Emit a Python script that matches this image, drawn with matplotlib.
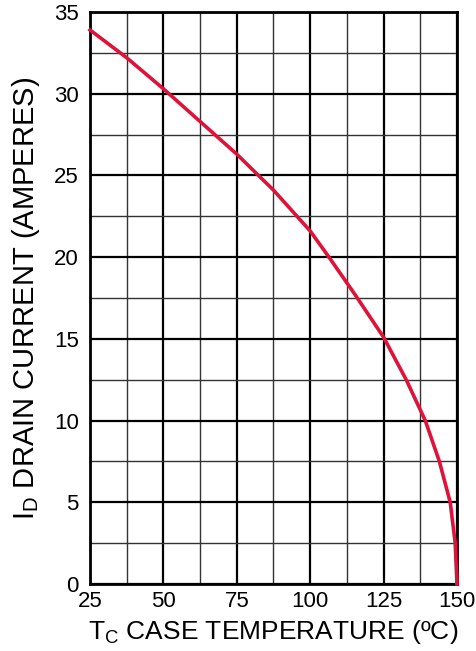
import numpy as np
import matplotlib
matplotlib.use('Agg')
import matplotlib.pyplot as plt
from matplotlib.ticker import MultipleLocator

plt.rcParams['font.family'] = ['Liberation Sans', 'DejaVu Sans']
plt.rcParams['mathtext.fontset'] = 'custom'
plt.rcParams['mathtext.rm'] = 'Liberation Sans'

# case temperature (C) vs max drain current (A)
temp = [25, 37.5, 50, 62.5, 75, 81.8, 87.5, 96, 100, 106.4, 115.3, 125,
        132.7, 139.2, 144, 147.7, 149.4, 150]
current = [33.9, 32.2, 30.3, 28.3, 26.3, 25.1, 24.1, 22.4, 21.6, 20.0, 17.7, 15.1,
           12.5, 10.0, 7.5, 5.0, 2.5, 0.0]

fig = plt.figure(figsize=(4.77, 6.51), dpi=100)
ax = fig.add_axes([0.1887, 0.1029, 0.7693, 0.8787])

ax.plot(temp, current, color='#dc143c', lw=2.6, clip_on=False, zorder=5,
        solid_joinstyle='round')

ax.set_xlim(25, 150)
ax.set_ylim(0, 35)
ax.xaxis.set_major_locator(MultipleLocator(25))
ax.xaxis.set_minor_locator(MultipleLocator(12.5))
ax.yaxis.set_major_locator(MultipleLocator(5))
ax.yaxis.set_minor_locator(MultipleLocator(2.5))
ax.grid(which='major', color='black', lw=1.6)
ax.grid(which='minor', color='#333333', lw=1.0)
ax.set_axisbelow(True)

for s in ax.spines.values():
    s.set_linewidth(2.0)

ax.tick_params(which='both', length=0)
ax.tick_params(axis='x', labelsize=16, pad=5)
ax.tick_params(axis='y', labelsize=16, pad=8)

ax.set_xlabel(r'T$_\mathrm{C}$ CASE TEMPERATURE (ºC)', fontsize=19, labelpad=4)
ax.set_ylabel(r'I$_\mathrm{D}$ DRAIN CURRENT (AMPERES)', fontsize=21, labelpad=9)

fig.savefig('out.png', dpi=100)
